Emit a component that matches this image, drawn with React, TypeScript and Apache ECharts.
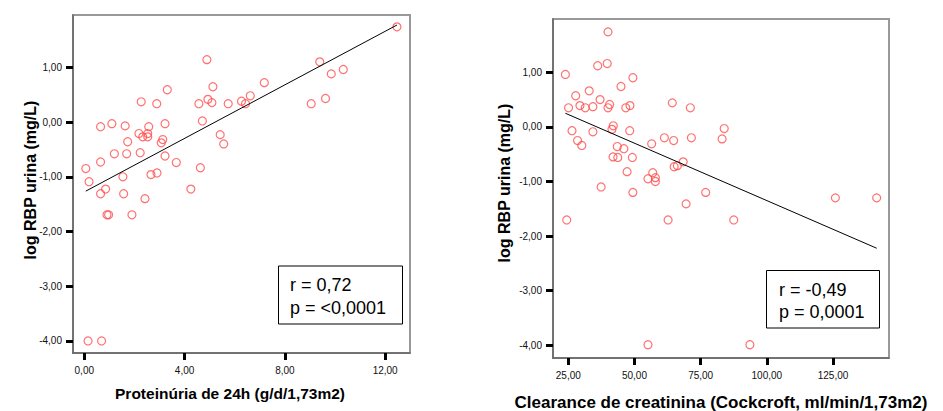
import React, { useEffect, useRef } from "react";
import * as echarts from "echarts";

// Left panel: 24h proteinuria vs log urinary RBP
const leftX = [4.89, 5.13, 3.31, 2.27, 2.89, 4.57, 4.93, 5.09, 5.74, 6.27, 6.43, 6.62, 4.71, 0.65, 1.10, 1.63, 2.57, 3.22, 2.18, 2.53, 2.33, 2.53, 3.13, 3.07, 5.42, 5.56, 1.73, 1.20, 1.69, 2.23, 3.22, 3.67, 0.65, 0.06, 0.19, 4.63, 1.54, 2.66, 2.90, 0.65, 0.85, 1.57, 2.42, 4.25, 0.905, 0.97, 1.90, 0.15, 0.69, 12.47, 9.39, 10.33, 9.85, 7.18, 9.05, 9.62];
const leftY = [1.14, 0.645, 0.59, 0.37, 0.335, 0.335, 0.415, 0.355, 0.335, 0.38, 0.335, 0.48, 0.02, -0.085, -0.03, -0.07, -0.085, -0.03, -0.21, -0.21, -0.27, -0.27, -0.32, -0.38, -0.23, -0.40, -0.36, -0.58, -0.58, -0.56, -0.62, -0.74, -0.73, -0.85, -1.09, -0.835, -1.0, -0.96, -0.93, -1.31, -1.225, -1.31, -1.40, -1.225, -1.695, -1.695, -1.695, -4.0, -4.0, 1.74, 1.10, 0.96, 0.88, 0.72, 0.335, 0.43];
const leftFit = { intercept: -1.277, slope: 0.2446 };
const leftXTicks = [0, 4, 8, 12];

// Right panel: creatinine clearance vs log urinary RBP
const rightX = [40.0, 23.9, 36.1, 39.7, 49.4, 44.9, 32.9, 27.8, 37.0, 25.1, 29.4, 31.4, 34.3, 40.0, 40.6, 46.7, 48.3, 64.3, 71.1, 26.4, 34.3, 42.0, 41.5, 48.2, 28.5, 30.1, 43.5, 46.0, 56.5, 61.3, 64.8, 71.5, 83.1, 41.9, 43.7, 49.2, 47.2, 65.0, 66.2, 68.4, 55.1, 56.9, 57.9, 57.9, 37.4, 49.4, 76.9, 24.4, 62.7, 69.5, 55.1, 83.9, 87.5, 125.9, 141.5, 93.6];
const rightY = [1.74, 0.96, 1.12, 1.16, 0.90, 0.74, 0.66, 0.57, 0.50, 0.35, 0.39, 0.35, 0.37, 0.35, 0.41, 0.35, 0.39, 0.44, 0.35, -0.07, -0.09, 0.02, -0.045, -0.07, -0.25, -0.34, -0.36, -0.40, -0.31, -0.20, -0.25, -0.20, -0.22, -0.55, -0.56, -0.56, -0.82, -0.73, -0.71, -0.64, -0.95, -0.84, -0.93, -1.0, -1.10, -1.20, -1.20, -1.705, -1.705, -1.41, -3.99, -0.03, -1.705, -1.30, -1.30, -3.99];
const rightFit = { intercept: 0.752, slope: -0.02102 };
const rightXTicks = [25, 50, 75, 100, 125];

const yTicks = [-4, -3, -2, -1, 0, 1];

const leftTitleX = "Proteinúria de 24h (g/d/1,73m2)";
const rightTitleX = "Clearance de creatinina (Cockcroft, ml/min/1,73m2)";
const titleY = "log RBP urina (mg/L)";
const leftStats = ["r = 0,72", "p = <0,0001"];
const rightStats = ["r = -0,49", "p = 0,0001"];

const FONT = "'Liberation Sans', Arial, Helvetica, sans-serif";
const fmt = (v: number) => v.toFixed(2).replace(".", ",");

function fitLine(xs: number[], fit: { intercept: number; slope: number }) {
  const lo = Math.min(...xs);
  const hi = Math.max(...xs);
  return [
    [lo, fit.intercept + fit.slope * lo],
    [hi, fit.intercept + fit.slope * hi],
  ];
}

function xAxis(gridIndex: number, min: number, max: number, ticks: number[]) {
  return {
    type: "value",
    gridIndex,
    min,
    max,
    splitLine: { show: false },
    axisLine: { show: true, onZero: false, lineStyle: { color: "#666", width: 1.5 } },
    axisTick: { show: true, inside: false, length: 7, customValues: ticks, lineStyle: { color: "#000", width: 3 } },
    axisLabel: { customValues: ticks, formatter: fmt, margin: 12, fontSize: 10, color: "#111", fontFamily: FONT },
  };
}

function yAxis(gridIndex: number, min: number, max: number) {
  return {
    type: "value",
    gridIndex,
    min,
    max,
    splitLine: { show: false },
    axisLine: { show: true, onZero: false, lineStyle: { color: "#666", width: 1.5 } },
    axisTick: { show: true, inside: false, length: 7, customValues: yTicks, lineStyle: { color: "#000", width: 3 } },
    axisLabel: { customValues: yTicks, formatter: fmt, margin: 11, fontSize: 10, color: "#111", fontFamily: FONT },
  };
}

function statBox(x: number, y: number, w: number, h: number, lines: string[], tx: number, ty: number[]) {
  return [
    { type: "rect", shape: { x, y, width: w, height: h }, style: { fill: "#fff", stroke: "#000", lineWidth: 1 }, z: 10 },
    ...lines.map((t, i) => ({
      type: "text",
      x: tx,
      y: ty[i],
      z: 11,
      style: { text: t, fontSize: 18, fontFamily: FONT, fill: "#000", align: "left", verticalAlign: "middle" },
    })),
  ];
}

export default function App() {
  const ref = useRef<HTMLDivElement>(null);
  useEffect(() => {
    document.body.style.margin = "0";
    if (!ref.current) return;
    const chart = echarts.init(ref.current, null, { renderer: "svg" });
    const symbolStyle = { color: "transparent", borderColor: "#ff4d4d", borderWidth: 1.2 };
    const titleStyle = { fontWeight: "bold", fontFamily: FONT, fill: "#000", align: "center", verticalAlign: "middle" };
    chart.setOption({
      animation: false,
      backgroundColor: "#fff",
      grid: [
        { left: 73, top: 15, width: 337, height: 338, show: true, borderColor: "#999", borderWidth: 2, backgroundColor: "transparent" },
        { left: 553, top: 19, width: 336, height: 339, show: true, borderColor: "#999", borderWidth: 2, backgroundColor: "transparent" },
      ],
      xAxis: [xAxis(0, -0.45, 12.99, leftXTicks), xAxis(1, 19.22, 146.16, rightXTicks)],
      yAxis: [yAxis(0, -4.22, 1.956), yAxis(1, -4.233, 1.976)],
      series: [
        {
          type: "scatter",
          xAxisIndex: 0,
          yAxisIndex: 0,
          symbol: "circle",
          symbolSize: 8,
          itemStyle: symbolStyle,
          data: leftX.map((x, i) => [x, leftY[i]]),
        },
        {
          type: "line",
          xAxisIndex: 0,
          yAxisIndex: 0,
          symbol: "none",
          lineStyle: { color: "#000", width: 1 },
          data: fitLine(leftX, leftFit),
        },
        {
          type: "scatter",
          xAxisIndex: 1,
          yAxisIndex: 1,
          symbol: "circle",
          symbolSize: 8,
          itemStyle: symbolStyle,
          data: rightX.map((x, i) => [x, rightY[i]]),
        },
        {
          type: "line",
          xAxisIndex: 1,
          yAxisIndex: 1,
          symbol: "none",
          lineStyle: { color: "#000", width: 1 },
          data: fitLine(rightX, rightFit),
        },
      ],
      graphic: [
        ...statBox(278.5, 266, 124, 58, leftStats, 290, [285, 308]),
        ...statBox(766.5, 270.5, 113, 57.5, rightStats, 779, [290, 312]),
        { type: "text", x: 230, y: 393, style: { ...titleStyle, fontSize: 15.5, text: leftTitleX } },
        { type: "text", x: 721, y: 402, style: { ...titleStyle, fontSize: 17, text: rightTitleX } },
        { type: "text", x: 30, y: 180, rotation: Math.PI / 2, style: { ...titleStyle, fontSize: 16, text: titleY } },
        { type: "text", x: 504, y: 183, rotation: Math.PI / 2, style: { ...titleStyle, fontSize: 16, text: titleY } },
      ],
    });
    return () => chart.dispose();
  }, []);
  return <div ref={ref} style={{ width: 943, height: 411 }} />;
}
